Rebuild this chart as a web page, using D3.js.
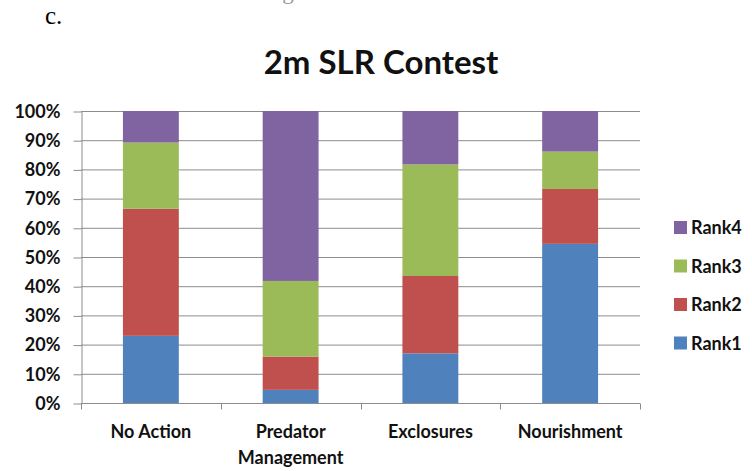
<!DOCTYPE html>
<html>
<head>
<meta charset="utf-8">
<script src="https://cdn.jsdelivr.net/npm/d3@7"></script>
<style>
  body { margin: 0; background: #fff; }
  svg { display: block; }
  .tick text { font-family: Lato, "Open Sans", sans-serif; font-weight: bold; fill: #111; }
</style>
</head>
<body>
<svg id="chart" width="752" height="471"></svg>
<script>
// data (percent of votes per rank)
const categories = ['No Action', 'Predator Management', 'Exclosures', 'Nourishment'];
const ranks = ['Rank1', 'Rank2', 'Rank3', 'Rank4'];
const rank1 = [23, 4.5, 17, 54.5];
const rank2 = [43.5, 11.4, 26.5, 18.8];
const rank3 = [22.7, 25.9, 38.2, 12.8];
const rank4 = [10.8, 58.2, 18.3, 13.9];
const yTicks = [0, 10, 20, 30, 40, 50, 60, 70, 80, 90, 100];
const colours = ['#4F81BD', '#C0504D', '#9BBB59', '#8064A2'];

const rows = categories.map((c, i) => ({
    cat: c, Rank1: rank1[i], Rank2: rank2[i], Rank3: rank3[i], Rank4: rank4[i]
}));

const svg = d3.select('#chart');
const plot = {left: 81, right: 640, top: 111, bottom: 403};
const labelFont = 'Lato, sans-serif';

const x = d3.scaleBand().domain(categories).range([plot.left, plot.right]).paddingInner(0.6).paddingOuter(0.3);
const y = d3.scaleLinear().domain([0, 100]).range([plot.bottom, plot.top]);
const colour = d3.scaleOrdinal().domain(ranks).range(colours);

// the little "c." and the cut-off caption above it
svg.append('text').attr('x', 45).attr('y', 24)
    .style('font-family', '"Liberation Serif", serif').style('font-size', '25px')
    .text('c.');
svg.append('text').attr('x', 290).attr('y', -1).attr('text-anchor', 'middle')
    .style('font-family', '"Liberation Serif", serif').style('font-size', '23px').style('fill', '#999')
    .text('Management');

svg.append('text').attr('x', 381).attr('y', 74).attr('text-anchor', 'middle')
    .style('font-family', labelFont).style('font-weight', 'bold').style('font-size', '33px')
    .style('fill', '#111')
    .text('2m SLR Contest');

// gridlines
svg.append('g').selectAll('line').data(yTicks.slice(1)).join('line')
    .attr('x1', plot.left).attr('x2', plot.right)
    .attr('y1', d => y(d) + 0.5).attr('y2', d => y(d) + 0.5)
    .attr('stroke', '#8c8c8c').attr('stroke-width', 1);

// y axis
const yAxis = svg.append('g').attr('transform', `translate(${plot.left + 0.5},0.5)`)
    .call(d3.axisLeft(y).tickValues(yTicks).tickFormat(d => d + '%').tickSize(8).tickPadding(13).tickSizeOuter(0));
yAxis.selectAll('text').style('font-size', '18px');
yAxis.selectAll('line, path').attr('stroke', '#8c8c8c');

// stacked bars
const stacked = d3.stack().keys(ranks)(rows);
svg.append('g').selectAll('g').data(stacked).join('g')
    .attr('fill', d => colour(d.key))
    .selectAll('rect').data(d => d).join('rect')
    .attr('x', d => x(d.data.cat))
    .attr('width', x.bandwidth())
    .attr('y', d => y(d[1]))
    .attr('height', d => y(d[0]) - y(d[1]));

// x axis - ticks sit between the categories like Excel
const xAxis = svg.append('g').attr('transform', `translate(0,${plot.bottom + 0.5})`);
xAxis.append('line').attr('x1', plot.left).attr('x2', plot.right).attr('stroke', '#8c8c8c');
const step = (plot.right - plot.left) / categories.length;
xAxis.selectAll('.xt').data(d3.range(categories.length + 1)).join('line')
    .attr('class', 'xt')
    .attr('x1', i => Math.round(plot.left + i * step) + 0.5).attr('x2', i => Math.round(plot.left + i * step) + 0.5)
    .attr('y1', 0).attr('y2', 6).attr('stroke', '#8c8c8c');
xAxis.selectAll('text').data(categories).join('text')
    .attr('text-anchor', 'middle')
    .attr('x', d => x(d) + x.bandwidth() / 2)
    .style('font-family', labelFont).style('font-weight', 'bold').style('font-size', '18px')
    .style('fill', '#111')
    .each(function(d) {
        const words = d === 'Predator Management' ? ['Predator', 'Management'] : [d];
        d3.select(this).selectAll('tspan').data(words).join('tspan')
            .attr('x', x(d) + x.bandwidth() / 2)
            .attr('y', (w, i) => 34 + i * 26)
            .text(w => w);
    });

// legend, top to bottom Rank4..Rank1
const legend = svg.append('g').selectAll('g').data(ranks.slice().reverse()).join('g')
    .attr('transform', (d, i) => `translate(674,${221 + i * 38.5})`);
legend.append('rect').attr('width', 13).attr('height', 13).attr('fill', d => colour(d));
legend.append('text').attr('x', 17).attr('y', 13)
    .style('font-family', labelFont).style('font-weight', 'bold').style('font-size', '18px')
    .style('fill', '#111')
    .text(d => d);
</script>
</body>
</html>
